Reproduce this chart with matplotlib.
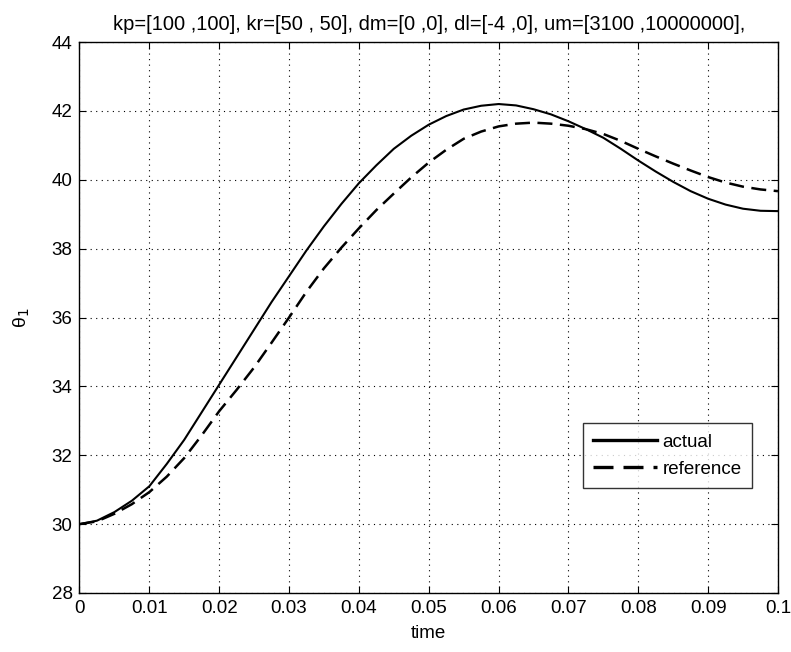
import matplotlib.pyplot as plt

# Données (pas de 0.0025)
t = [0, 0.0025, 0.005, 0.0075, 0.01, 0.0125, 0.015, 0.0175, 0.02, 0.0225,
     0.025, 0.0275, 0.03, 0.0325, 0.035, 0.0375, 0.04, 0.0425, 0.045, 0.0475,
     0.05, 0.0525, 0.055, 0.0575, 0.06, 0.0625, 0.065, 0.0675, 0.07, 0.0725,
     0.075, 0.0775, 0.08, 0.0825, 0.085, 0.0875, 0.09, 0.0925, 0.095, 0.0975, 0.1]
actual = [30.0, 30.1, 30.35, 30.68, 31.1, 31.75, 32.45, 33.25, 34.05, 34.85,
          35.65, 36.45, 37.2, 37.95, 38.65, 39.3, 39.9, 40.42, 40.9, 41.28,
          41.6, 41.85, 42.04, 42.15, 42.2, 42.16, 42.05, 41.9, 41.7, 41.47,
          41.22, 40.9, 40.56, 40.24, 39.94, 39.67, 39.45, 39.28, 39.16, 39.1, 39.09]
reference = [30.0, 30.08, 30.3, 30.58, 30.93, 31.38, 31.92, 32.58, 33.28, 33.9,
             34.55, 35.27, 36.0, 36.75, 37.43, 38.03, 38.59, 39.12, 39.6, 40.07,
             40.5, 40.87, 41.19, 41.4, 41.55, 41.63, 41.66, 41.63, 41.57, 41.47,
             41.33, 41.13, 40.9, 40.68, 40.47, 40.27, 40.08, 39.92, 39.8, 39.72, 39.67]
xticks = [0, 0.01, 0.02, 0.03, 0.04, 0.05, 0.06, 0.07, 0.08, 0.09, 0.1]
xtick_labels = ['0', '0.01', '0.02', '0.03', '0.04', '0.05', '0.06', '0.07', '0.08', '0.09', '0.1']
yticks = [28, 30, 32, 34, 36, 38, 40, 42, 44]

plt.rcParams['font.family'] = ['Liberation Sans', 'DejaVu Sans']

fig = plt.figure(figsize=(7.91, 6.52), dpi=100)
ax = fig.add_axes([0.1005, 0.0905, 0.883, 0.845])

ax.plot(t, actual, color='black', lw=1.5, label='actual')
ax.plot(t, reference, color='black', lw=1.8, ls=(0, (6, 3)), label='reference')

ax.set_xlim(0, 0.1)
ax.set_ylim(28, 44)
ax.set_xticks(xticks)
ax.set_xticklabels(xtick_labels)
ax.set_yticks(yticks)
ax.tick_params(direction='in', length=5, width=0.8, labelsize=13.5,
               top=True, right=True, pad=5)
ax.grid(True, color='black', ls=(0, (1, 4)), lw=0.8)
for s in ax.spines.values():
    s.set_linewidth(1.0)

ax.set_xlabel('time', fontsize=13.5, labelpad=6)
ax.set_ylabel('θ$_1$', fontsize=14, labelpad=14)
ax.set_title('kp=[100 ,100], kr=[50 , 50], dm=[0 ,0], dl=[-4 ,0], um=[3100 ,10000000],',
             fontsize=14.5, pad=9)

leg = ax.legend(loc='lower right', bbox_to_anchor=(0.963, 0.19), fontsize=13.5,
                frameon=True, fancybox=False, edgecolor='black', handlelength=3.4,
                borderpad=0.55, labelspacing=0.55, handletextpad=0.3, borderaxespad=0)
leg.get_frame().set_linewidth(1.0)
for line in leg.get_lines():
    line.set_linewidth(2.4)

fig.savefig('out.png', dpi=100, facecolor='white')
